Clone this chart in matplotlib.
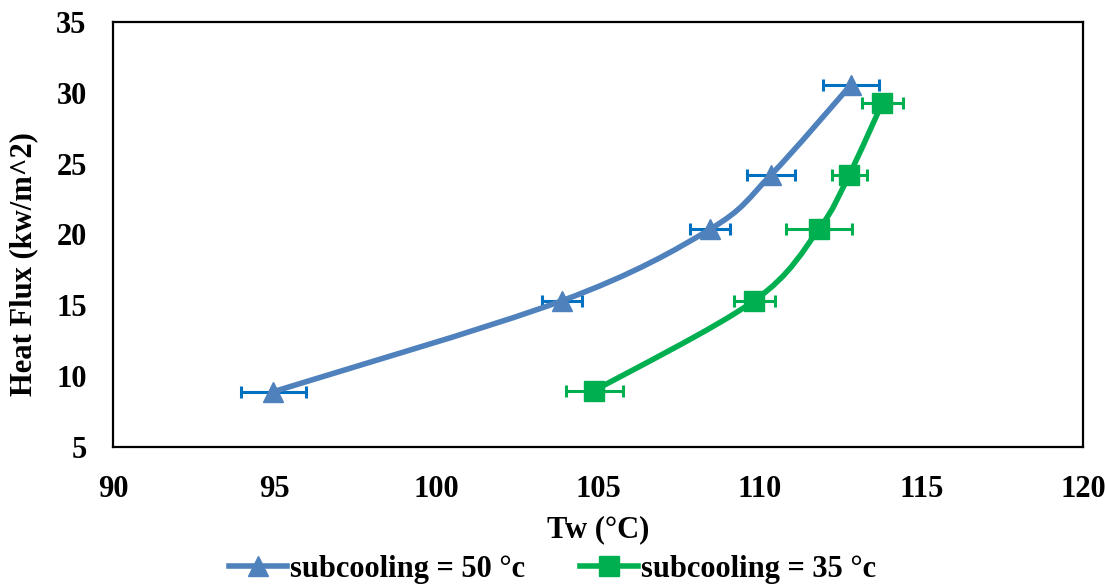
import matplotlib.pyplot as plt
import numpy as np
from matplotlib.path import Path
from matplotlib.patches import PathPatch
from matplotlib.lines import Line2D

plt.rcParams['font.family'] = ['Liberation Serif', 'DejaVu Serif']
plt.rcParams['font.weight'] = 'bold'

# wall temperature (C) and heat flux (kW/m^2)
tw_50 = [94.96, 103.9, 108.47, 110.35, 112.82]
q_50 = [8.9, 15.33, 20.37, 24.2, 30.55]
err_50 = [1.0, 0.62, 0.62, 0.75, 0.87]

tw_35 = [104.89, 109.84, 111.84, 112.77, 113.8]
q_35 = [8.98, 15.33, 20.4, 24.2, 29.3]
err_35 = [0.87, 0.64, 1.02, 0.54, 0.64]

labels = ['subcooling = 50 °c', 'subcooling = 35 °c']
blue = '#4F81BD'
blue_err = '#0070C0'
green = '#00B050'


def smooth_path(x, y):
    # Catmull-Rom style cubic Bezier through every point
    p = np.column_stack([x, y])
    pts = np.vstack([p[0], p, p[-1]])
    verts = [p[0]]
    codes = [Path.MOVETO]
    for i in range(1, len(pts) - 2):
        c1 = pts[i] + (pts[i + 1] - pts[i - 1]) / 6
        c2 = pts[i + 1] - (pts[i + 2] - pts[i]) / 6
        verts += [c1, c2, pts[i + 1]]
        codes += [Path.CURVE4] * 3
    return Path(verts, codes)


fig = plt.figure(figsize=(11.05, 5.85), dpi=100)
ax = fig.add_axes([0.1023, 0.236, 0.8777, 0.7265])

for x, y, e, c, ec, m in [(tw_50, q_50, err_50, blue, blue_err, '^'),
                          (tw_35, q_35, err_35, green, green, 's')]:
    ax.errorbar(x, y, xerr=e, fmt='none', ecolor=ec, elinewidth=2.2,
                capsize=4.5, capthick=2.2, zorder=2)
    ax.add_patch(PathPatch(smooth_path(x, y), facecolor='none', edgecolor=c,
                           lw=4, capstyle='round', zorder=3))
    ax.plot(x, y, ls='none', marker=m, ms=14, color=c, zorder=4)

ax.set_xlim(90, 120)
ax.set_ylim(5, 35)
ax.set_xticks(np.arange(90, 121, 5))
ax.set_yticks(np.arange(5, 36, 5))
ax.tick_params(length=0, labelsize=22)
ax.tick_params(axis='x', pad=20)
ax.tick_params(axis='y', pad=19)
for s in ax.spines.values():
    s.set_linewidth(1.6)
ax.set_xlabel('Tw (°C)', fontsize=22, fontweight='bold', labelpad=8)
ax.set_ylabel('Heat Flux (kw/m^2)', fontsize=22, fontweight='bold')
ax.yaxis.set_label_coords(-0.077, 0.43)

handles = [Line2D([], [], color=blue, lw=4, marker='^', ms=14),
           Line2D([], [], color=green, lw=4, marker='s', ms=14)]
fig.legend(handles, labels, loc='lower center', ncol=2, frameon=False,
           fontsize=22, handlelength=1.9, handletextpad=0.1,
           columnspacing=1.8, bbox_to_anchor=(0.5, -0.045))

fig.savefig('out.png', dpi=100)
